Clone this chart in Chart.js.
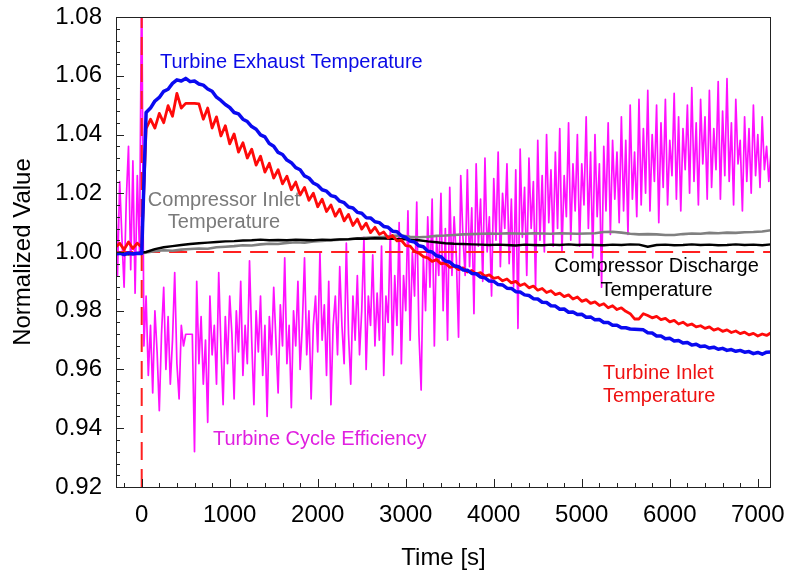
<!DOCTYPE html>
<html>
<head>
<meta charset="utf-8">
<script src="https://cdn.jsdelivr.net/npm/chart.js@4.4.0/dist/chart.umd.min.js"></script>
<style>
  html, body { margin: 0; padding: 0; background: #fff; }
  #wrap { width: 787px; height: 575px; }
</style>
</head>
<body>
<div id="wrap"><canvas id="c" width="787" height="575"></canvas></div>
<script>
// Axis ticks
const xTicks = [0, 1000, 2000, 3000, 4000, 5000, 6000, 7000];
const yTicks = [0.92, 0.94, 0.96, 0.98, 1.00, 1.02, 1.04, 1.06, 1.08];

// Reference lines: step start time and normalisation level
const stepTime = 0;
const baseLevel = 1.00;

// Turbine temperatures sampled every 50 s from -300 s
const tempStart = -300, tempStep = 50;
const exhaustTemp = [
  0.9993, 0.9996, 0.9991, 0.9997, 0.9993, 0.9996, 0.9995, 1.0475, 1.0490, 1.0514,
  1.0526, 1.0547, 1.0554, 1.0574, 1.0586, 1.0582, 1.0591, 1.0580, 1.0582, 1.0572,
  1.0568, 1.0555, 1.0547, 1.0527, 1.0516, 1.0502, 1.0492, 1.0475, 1.0470, 1.0452,
  1.0444, 1.0427, 1.0418, 1.0399, 1.0392, 1.0369, 1.0360, 1.0339, 1.0332, 1.0313,
  1.0304, 1.0287, 1.0280, 1.0259, 1.0252, 1.0235, 1.0227, 1.0212, 1.0207, 1.0192,
  1.0188, 1.0173, 1.0168, 1.0153, 1.0150, 1.0135, 1.0132, 1.0117, 1.0116, 1.0103,
  1.0100, 1.0087, 1.0084, 1.0071, 1.0069, 1.0055, 1.0050, 1.0037, 1.0034, 1.0021,
  1.0018, 1.0003, 1.0000, 0.9987, 0.9984, 0.9969, 0.9966, 0.9953, 0.9950, 0.9939,
  0.9938, 0.9927, 0.9926, 0.9915, 0.9912, 0.9901, 0.9900, 0.9889, 0.9888, 0.9877,
  0.9876, 0.9865, 0.9864, 0.9854, 0.9852, 0.9841, 0.9840, 0.9829, 0.9828, 0.9817,
  0.9816, 0.9805, 0.9806, 0.9795, 0.9796, 0.9787, 0.9788, 0.9778, 0.9779, 0.9769,
  0.9770, 0.9760, 0.9760, 0.9751, 0.9751, 0.9742, 0.9742, 0.9738, 0.9737, 0.9736,
  0.9735, 0.9725, 0.9724, 0.9714, 0.9714, 0.9705, 0.9706, 0.9697, 0.9699, 0.9690,
  0.9692, 0.9683, 0.9686, 0.9678, 0.9680, 0.9673, 0.9676, 0.9669, 0.9672, 0.9665,
  0.9668, 0.9662, 0.9665, 0.9659, 0.9661, 0.9654, 0.9658, 0.9652, 0.9659, 0.9660
];
const inletTemp = [
  1.0015, 1.0030, 1.0008, 1.0034, 1.0012, 1.0030, 1.0016, 1.0420, 1.0452, 1.0422,
  1.0472, 1.0440, 1.0498, 1.0462, 1.0540, 1.0490, 1.0506, 1.0506, 1.0506, 1.0504,
  1.0452, 1.0490, 1.0422, 1.0460, 1.0395, 1.0430, 1.0368, 1.0402, 1.0340, 1.0372,
  1.0320, 1.0350, 1.0296, 1.0326, 1.0272, 1.0302, 1.0252, 1.0280, 1.0232, 1.0258,
  1.0212, 1.0238, 1.0194, 1.0220, 1.0176, 1.0200, 1.0154, 1.0180, 1.0138, 1.0160,
  1.0122, 1.0146, 1.0106, 1.0128, 1.0090, 1.0112, 1.0078, 1.0098, 1.0066, 1.0084,
  1.0060, 1.0068, 1.0048, 1.0056, 1.0038, 1.0040, 1.0022, 1.0020, 1.0002, 0.9996,
  0.9984, 0.9980, 0.9968, 0.9974, 0.9960, 0.9962, 0.9948, 0.9952, 0.9940, 0.9946,
  0.9932, 0.9937, 0.9925, 0.9930, 0.9918, 0.9922, 0.9910, 0.9914, 0.9902, 0.9908,
  0.9895, 0.9900, 0.9886, 0.9892, 0.9878, 0.9884, 0.9870, 0.9876, 0.9862, 0.9868,
  0.9855, 0.9860, 0.9848, 0.9854, 0.9840, 0.9847, 0.9832, 0.9838, 0.9825, 0.9830,
  0.9818, 0.9824, 0.9810, 0.9817, 0.9804, 0.9810, 0.9798, 0.9790, 0.9772, 0.9772,
  0.9790, 0.9784, 0.9776, 0.9781, 0.9770, 0.9774, 0.9762, 0.9767, 0.9755, 0.9761,
  0.9750, 0.9755, 0.9745, 0.9749, 0.9740, 0.9745, 0.9734, 0.9739, 0.9730, 0.9735,
  0.9726, 0.9731, 0.9722, 0.9727, 0.9718, 0.9723, 0.9714, 0.9721, 0.9716, 0.9725
];

// Compressor temperatures sampled every 100 s from -350 s
const compStart = -350, compStep = 100;
const compInletTemp = [
  0.9994, 0.9996, 0.9993, 0.9995, 0.9998, 1.0003, 1.0006, 1.0004, 1.0008, 1.0010,
  1.0012, 1.0011, 1.0016, 1.0018, 1.0020, 1.0023, 1.0022, 1.0026, 1.0028, 1.0027,
  1.0031, 1.0033, 1.0032, 1.0036, 1.0038, 1.0040, 1.0042, 1.0043, 1.0046, 1.0048,
  1.0050, 1.0052, 1.0055, 1.0056, 1.0052, 1.0050, 1.0052, 1.0055, 1.0056, 1.0058,
  1.0060, 1.0061, 1.0062, 1.0063, 1.0062, 1.0064, 1.0063, 1.0062, 1.0064, 1.0063,
  1.0062, 1.0064, 1.0063, 1.0062, 1.0063, 1.0064, 1.0068, 1.0069, 1.0066, 1.0062,
  1.0060, 1.0061, 1.0060, 1.0058, 1.0058, 1.0061, 1.0063, 1.0062, 1.0065, 1.0064,
  1.0066, 1.0065, 1.0067, 1.0068, 1.0070, 1.0074
];
const compDischargeTemp = [
  0.9993, 0.9995, 0.9992, 0.9996, 1.0000, 1.0010, 1.0016, 1.0020, 1.0024, 1.0027,
  1.0030, 1.0032, 1.0034, 1.0036, 1.0037, 1.0039, 1.0040, 1.0042, 1.0040, 1.0041,
  1.0040, 1.0042, 1.0041, 1.0040, 1.0042, 1.0041, 1.0043, 1.0044, 1.0046, 1.0045,
  1.0047, 1.0046, 1.0045, 1.0044, 1.0042, 1.0040, 1.0036, 1.0033, 1.0030, 1.0028,
  1.0027, 1.0026, 1.0025, 1.0024, 1.0025, 1.0024, 1.0022, 1.0025, 1.0024, 1.0023,
  1.0025, 1.0024, 1.0026, 1.0024, 1.0025, 1.0024, 1.0023, 1.0025, 1.0024, 1.0026,
  1.0025, 1.0018, 1.0024, 1.0025, 1.0023, 1.0024, 1.0026, 1.0024, 1.0025, 1.0023,
  1.0024, 1.0026, 1.0024, 1.0025, 1.0023, 1.0026
];

// Turbine cycle efficiency sampled every 25 s from -300 s
const effStart = -300, effStep = 25;
const cycleEfficiency = [
  1.030, 0.992, 1.024, 1.005, 0.988, 1.018, 1.036, 0.994, 1.031, 0.986,
  1.026, 1.000, 1.095, 0.968, 0.985, 0.958, 0.975, 0.952, 0.980, 0.966,
  0.946, 0.972, 0.988, 0.960, 0.978, 0.955, 0.970, 0.993, 0.962, 0.950,
  0.975, 0.968, 0.972, 0.972, 0.972, 0.972, 0.932, 0.990, 0.962, 0.978,
  0.955, 0.970, 0.942, 0.985, 0.965, 0.975, 0.955, 0.993, 0.968, 0.948,
  0.978, 0.962, 0.985, 0.972, 0.950, 0.980, 0.966, 0.990, 0.958, 0.975,
  0.962, 0.997, 0.970, 0.948, 0.980, 0.966, 0.985, 0.958, 0.975, 0.944,
  0.978, 0.965, 0.988, 0.970, 0.952, 0.982, 0.968, 0.998, 0.962, 0.975,
  0.947, 0.980, 0.968, 0.990, 0.960, 0.975, 0.998, 0.965, 0.980, 0.950,
  0.975, 0.985, 0.966, 1.000, 0.970, 0.982, 0.958, 0.990, 0.948, 0.975,
  0.985, 0.965, 0.995, 0.975, 0.962, 1.003, 0.972, 0.955, 0.985, 0.970,
  0.992, 0.965, 0.980, 1.005, 0.960, 0.985, 0.975, 0.999, 0.968, 0.986,
  0.970, 1.002, 0.958, 0.985, 0.976, 1.008, 0.965, 0.992, 0.975, 1.010,
  0.962, 0.992, 0.980, 1.014, 0.970, 1.000, 0.985, 1.017, 0.972, 0.953,
  0.998, 0.980, 1.012, 0.988, 1.018, 0.968, 1.005, 0.992, 1.020, 0.980,
  1.008, 0.970, 1.022, 0.992, 1.012, 0.998, 0.971, 1.026, 1.005, 0.992,
  1.028, 0.995, 1.015, 0.979, 1.030, 1.002, 1.018, 0.990, 1.032, 1.000,
  1.012, 0.985, 1.025, 1.004, 1.034, 0.995, 1.020, 1.008, 1.030, 0.996,
  1.018, 0.988, 1.028, 0.974, 1.035, 1.005, 1.022, 0.992, 1.032, 1.008,
  1.024, 0.988, 1.038, 1.004, 1.026, 1.000, 1.040, 1.010, 1.028, 1.002,
  1.034, 1.008, 1.042, 1.000, 1.026, 1.012, 1.044, 1.004, 1.030, 1.014,
  1.040, 1.002, 1.030, 1.016, 1.046, 1.008, 1.034, 0.998, 1.040, 1.012,
  1.030, 0.988, 1.036, 1.014, 1.044, 1.006, 1.038, 1.018, 1.034, 1.010,
  1.046, 1.014, 1.038, 1.006, 1.050, 1.018, 1.034, 1.012, 1.052, 1.016,
  1.042, 1.020, 1.055, 1.014, 1.040, 1.024, 1.050, 1.010, 1.044, 1.022,
  1.052, 1.016, 1.038, 1.026, 1.054, 1.018, 1.046, 1.014, 1.042, 1.028,
  1.050, 1.020, 1.056, 1.024, 1.044, 1.016, 1.052, 1.030, 1.046, 1.018,
  1.055, 1.022, 1.042, 1.028, 1.058, 1.018, 1.048, 1.026, 1.059, 1.024,
  1.044, 1.016, 1.052, 1.030, 1.038, 1.014, 1.046, 1.024, 1.042, 1.020,
  1.050, 1.026, 1.040, 1.022, 1.046, 1.028, 1.036, 1.024, 1.034
];

// Curve labels placed in data coordinates (time, value per line)
const curveLabels = [
  { lines: ['Turbine Exhaust Temperature'], t: 208, v: [1.0646], color: '#0a0ae6', align: 'left' },
  { lines: ['Compressor Inlet', 'Temperature'], t: 935, v: [1.0176, 1.0101], color: '#7a7a7a', align: 'center' },
  { lines: ['Compressor Discharge', 'Temperature'], t: 5850, v: [0.9949, 0.9870], color: '#000000', align: 'center' },
  { lines: ['Turbine Inlet', 'Temperature'], t: 5242, v: [0.9587, 0.9509], color: '#ee1111', align: 'left' },
  { lines: ['Turbine Cycle Efficiency'], t: 810, v: [0.9362], color: '#e020e0', align: 'left' }
];

const X_MIN = -292, X_MAX = 7150, Y_MIN = 0.92, Y_MAX = 1.08;
const FONT = '"Liberation Sans", Arial, Helvetica, sans-serif';

function sampled(start, step, values) {
  return values.map((v, i) => ({ x: start + i * step, y: v }));
}

const curveLabelPlugin = {
  id: 'curveLabels',
  afterDatasetsDraw(chart) {
    const { ctx, scales: { x, y } } = chart;
    ctx.save();
    ctx.font = '20px ' + FONT;
    ctx.textBaseline = 'middle';
    curveLabels.forEach(l => {
      ctx.fillStyle = l.color;
      ctx.textAlign = l.align;
      l.lines.forEach((txt, i) => ctx.fillText(txt, x.getPixelForValue(l.t), y.getPixelForValue(l.v[i])));
    });
    ctx.restore();
  }
};

// Plot frame with inward major and minor tick marks
const framePlugin = {
  id: 'frame',
  afterDraw(chart) {
    const { ctx, chartArea: a, scales: { x, y } } = chart;
    ctx.save();
    ctx.strokeStyle = '#222';
    ctx.lineWidth = 1;
    ctx.strokeRect(a.left + 0.5, a.top + 0.5, a.right - a.left - 1, a.bottom - a.top);
    ctx.beginPath();
    for (let t = -200; t <= 7000; t += 200) {
      const px = Math.round(x.getPixelForValue(t)) + 0.5;
      const len = (t % 1000 === 0) ? 8 : 4;
      ctx.moveTo(px, a.bottom);
      ctx.lineTo(px, a.bottom - len);
    }
    for (let i = 0; i <= 40; i++) {
      const py = Math.round(y.getPixelForValue(Y_MIN + i * 0.004)) + 0.5;
      const len = (i % 5 === 0) ? 8 : 4;
      ctx.moveTo(a.left, py);
      ctx.lineTo(a.left + len, py);
    }
    ctx.stroke();
    ctx.restore();
  }
};

const lineDefaults = { pointRadius: 0, tension: 0, fill: false, borderJoinStyle: 'round' };

new Chart(document.getElementById('c'), {
  type: 'line',
  data: {
    datasets: [
      Object.assign({ label: 'Turbine Exhaust Temperature', data: sampled(tempStart, tempStep, exhaustTemp),
        borderColor: '#0a0af0', borderWidth: 3.5, order: 1 }, lineDefaults),
      Object.assign({ label: 'Turbine Inlet Temperature', data: sampled(tempStart, tempStep, inletTemp),
        borderColor: '#ff0a0a', borderWidth: 2.8, order: 2 }, lineDefaults),
      Object.assign({ label: 'Compressor Discharge Temperature', data: sampled(compStart, compStep, compDischargeTemp),
        borderColor: '#000000', borderWidth: 2.4, order: 3 }, lineDefaults),
      Object.assign({ label: 'Compressor Inlet Temperature', data: sampled(compStart, compStep, compInletTemp),
        borderColor: '#808080', borderWidth: 2.6, order: 4 }, lineDefaults),
      Object.assign({ label: 'Baseline', data: [{ x: X_MIN - 10, y: baseLevel }, { x: X_MAX + 10, y: baseLevel }],
        borderColor: '#ff2020', borderWidth: 2, borderDash: [18, 9], order: 5 }, lineDefaults),
      Object.assign({ label: 'Step', data: [{ x: stepTime, y: Y_MIN }, { x: stepTime, y: Y_MAX }],
        borderColor: '#ff2020', borderWidth: 2, borderDash: [18, 9], order: 6 }, lineDefaults),
      Object.assign({ label: 'Turbine Cycle Efficiency', data: sampled(effStart, effStep, cycleEfficiency),
        borderColor: '#ff10ff', borderWidth: 1.7, order: 7 }, lineDefaults)
    ]
  },
  options: {
    responsive: false,
    animation: false,
    devicePixelRatio: 1,
    layout: { padding: { left: 0, top: 17, right: 16, bottom: 0 } },
    plugins: { legend: { display: false }, tooltip: { enabled: false } },
    scales: {
      x: {
        type: 'linear', min: X_MIN, max: X_MAX,
        grid: { display: false, drawTicks: false },
        border: { display: false },
        afterBuildTicks: s => { s.ticks = xTicks.map(v => ({ value: v })); },
        afterFit: s => { s.height = 88; s.paddingLeft = 0; s.paddingRight = 0; },
        ticks: { color: '#000', padding: 14, maxRotation: 0, font: { family: FONT, size: 24 },
          callback: v => String(v) },
        title: { display: true, text: 'Time [s]', color: '#000', padding: { top: 2, bottom: 2 },
          font: { family: FONT, size: 24 } }
      },
      y: {
        type: 'linear', min: Y_MIN, max: Y_MAX,
        grid: { display: false, drawTicks: false },
        border: { display: false },
        afterBuildTicks: s => { s.ticks = yTicks.map(v => ({ value: v })); },
        afterFit: s => { s.width = 116; s.paddingTop = 0; s.paddingBottom = 0; },
        ticks: { color: '#000', padding: 14, font: { family: FONT, size: 24 },
          callback: v => Number(v).toFixed(2) },
        title: { display: true, text: 'Normalized Value', color: '#000', padding: { top: 9, bottom: 0 },
          font: { family: FONT, size: 24 } }
      }
    }
  },
  plugins: [curveLabelPlugin, framePlugin]
});
</script>
</body>
</html>
